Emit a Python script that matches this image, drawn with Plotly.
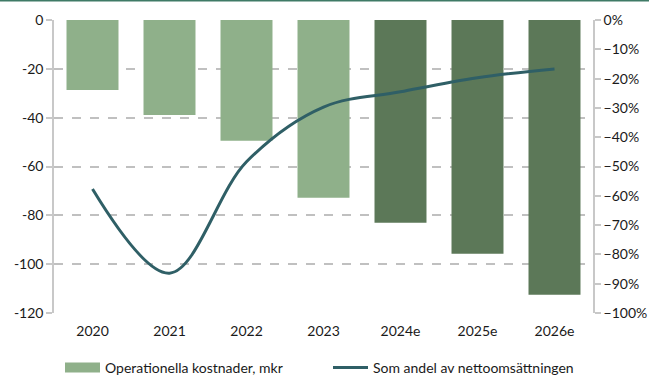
import plotly.graph_objects as go

# Operating costs (MSEK) and costs as share of net sales
years = ["2020", "2021", "2022", "2023", "2024e", "2025e", "2026e"]
costs = [-28.7, -38.9, -49.5, -72.8, -83.0, -95.7, -112.5]
share = [-0.577, -0.864, -0.484, -0.297, -0.245, -0.197, -0.167]
actual_years = 4  # first four are outcomes, rest are estimates

left_ticks = [0, -20, -40, -60, -80, -100, -120]
right_ticks = [0, -0.1, -0.2, -0.3, -0.4, -0.5, -0.6, -0.7, -0.8, -0.9, -1.0]

light_green = "#8fb08a"
dark_green = "#5c7858"
line_col = "#2f5f66"
font_family = "Lato, Calibri, Arial, sans-serif"

W, H = 649, 378
M_T, M_B = 20, 65
plot_h = H - M_T - M_B

bar_colors = [light_green if i < actual_years else dark_green for i in range(len(years))]

fig = go.Figure()
fig.add_trace(go.Bar(
    x=years, y=costs, marker=dict(color=bar_colors, line=dict(width=0)),
    width=0.675, showlegend=False, yaxis="y",
))
# legend entry for the bars (wide swatch)
fig.add_trace(go.Scatter(
    x=[None], y=[None], mode="lines", name="Operationella kostnader, mkr",
    line=dict(color=light_green, width=10), yaxis="y",
))
fig.add_trace(go.Scatter(
    x=years, y=share, mode="lines", name="Som andel av nettoomsättningen",
    line=dict(color=line_col, width=3, shape="spline", smoothing=1.0),
    yaxis="y2",
))

fig.update_layout(
    width=W, height=H,
    margin=dict(l=54, r=56, t=M_T, b=M_B, autoexpand=False),
    plot_bgcolor="white", paper_bgcolor="white",
    font=dict(family=font_family, size=14, color="#1a1a1a"),
    xaxis=dict(
        type="category", showgrid=False, zeroline=False, showline=False,
        ticks="", ticklabelstandoff=8, tickfont=dict(size=14),
    ),
    yaxis=dict(
        range=[-120, 0], tickvals=left_ticks, ticktext=[str(v) for v in left_ticks],
        showgrid=True, gridcolor="#c0c0c0", griddash="dash", gridwidth=1.5,
        zeroline=False, showline=True, linecolor="#c8c8c8", linewidth=1.5,
        ticks="outside", ticklen=6, tickcolor="#c8c8c8", tickwidth=1.5,
        tickfont=dict(size=14),
    ),
    yaxis2=dict(
        range=[-1.0, 0], overlaying="y", side="right", tickvals=right_ticks,
        tickformat=".0%", showgrid=False, zeroline=False, showline=True,
        linecolor="#c8c8c8", linewidth=1.5, ticks="outside", ticklen=6,
        tickcolor="#c8c8c8", tickwidth=1.5, tickfont=dict(size=14),
    ),
    legend=dict(
        orientation="h", xref="container", yref="container",
        x=60 / W, y=(H - 368) / H, xanchor="left", yanchor="middle",
        entrywidth=218, entrywidthmode="pixels", itemwidth=35,
        font=dict(size=14), bgcolor="rgba(0,0,0,0)",
    ),
    shapes=[dict(type="line", xref="paper", yref="paper", x0=-0.2, x1=1.2,
                 y0=1 + (M_T - 0.5) / plot_h, y1=1 + (M_T - 0.5) / plot_h,
                 line=dict(color="#3f7a66", width=2))],
)

fig.write_html("out.html")
